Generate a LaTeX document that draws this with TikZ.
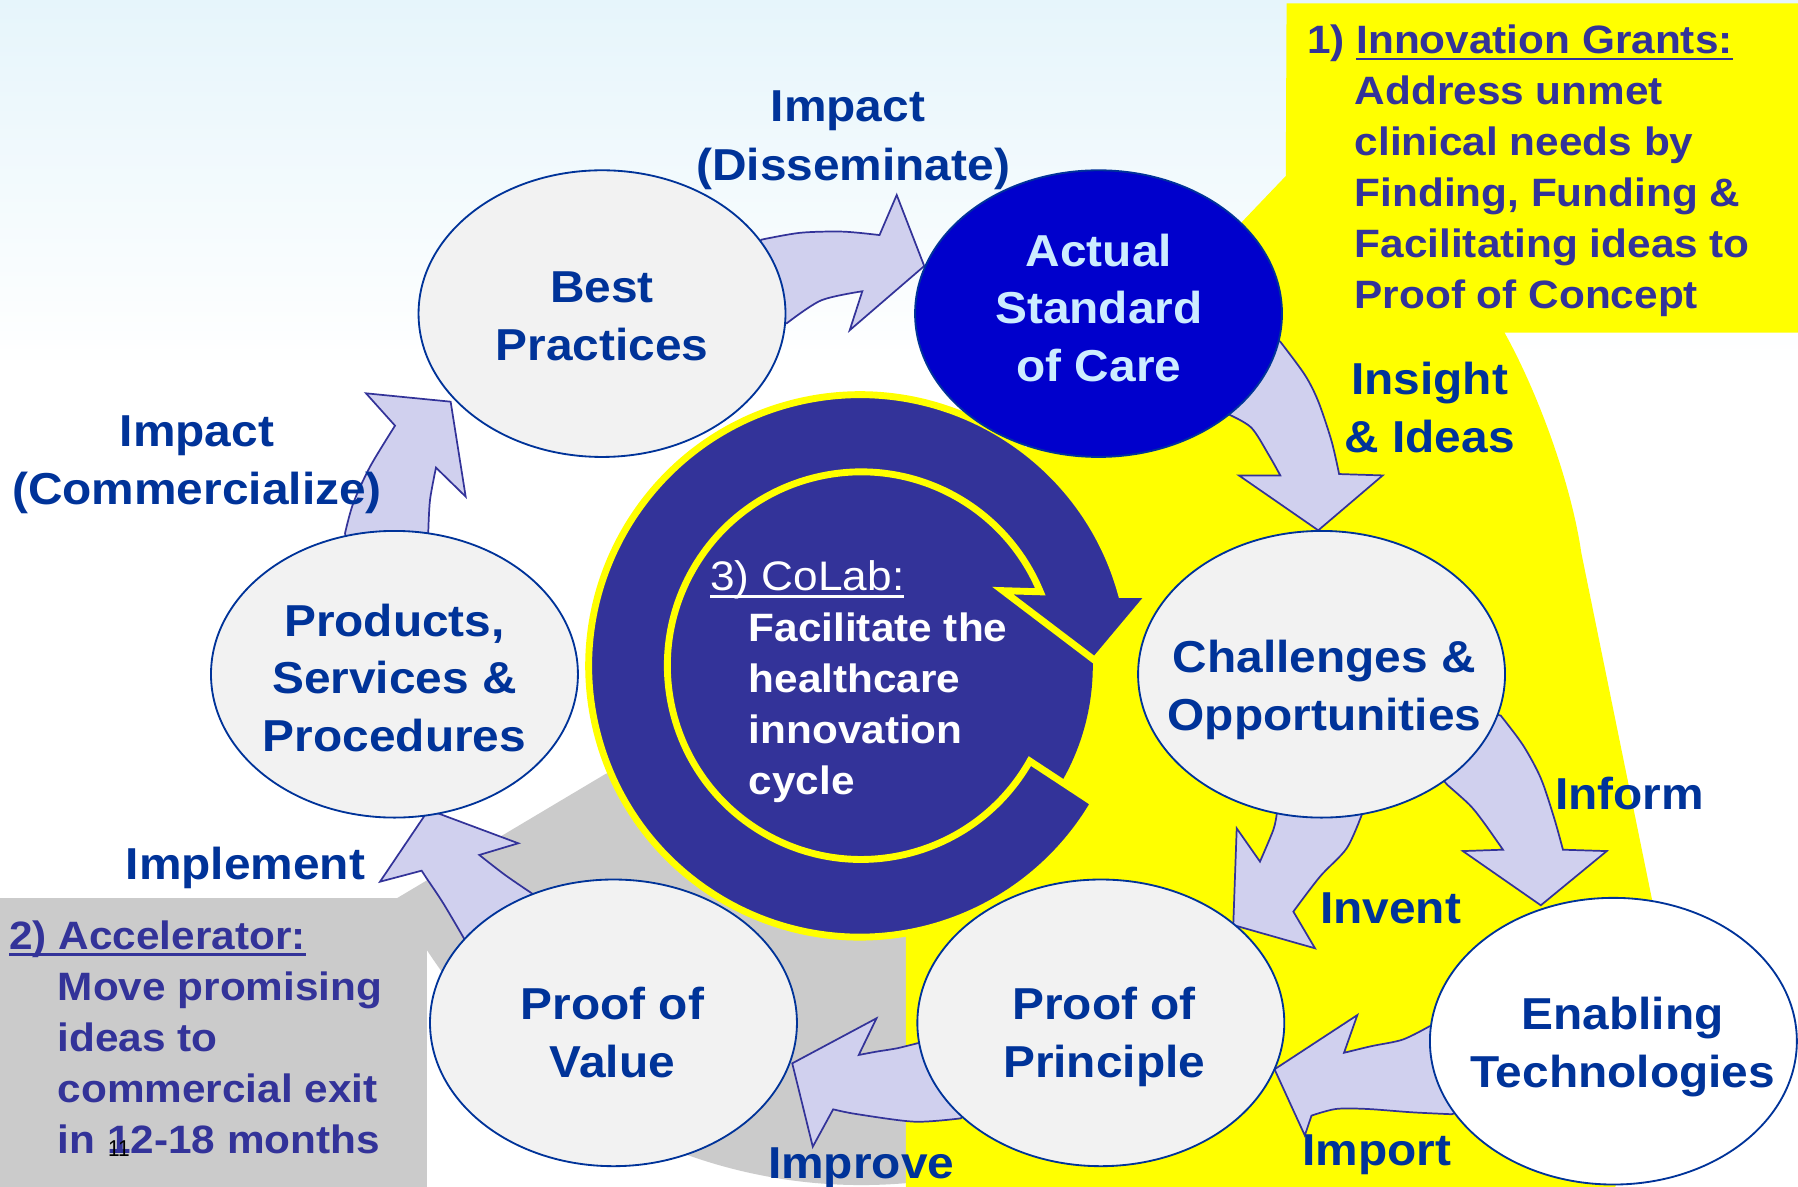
\documentclass[tikz,border=0pt]{standalone}
\usepackage{fontspec}
\setmainfont{Liberation Sans}[FakeStretch=1.07]
\usetikzlibrary{calc,shapes.geometric}
\definecolor{lblue}{RGB}{0,51,153}
\definecolor{pblue}{RGB}{51,51,153}
\definecolor{colab}{RGB}{51,51,153}
\definecolor{ascfill}{RGB}{0,0,204}
\definecolor{asctext}{RGB}{204,236,255}
\definecolor{ellfill}{RGB}{242,242,242}
\definecolor{arrfill}{RGB}{208,208,238}
\definecolor{grayreg}{RGB}{203,203,203}
\definecolor{yel}{RGB}{255,255,0}
\definecolor{bgtop}{RGB}{230,245,251}
\newcommand\cl[1]{\hbox to 0pt{\hss#1\hss}}
\newcommand\ulx[1]{\setbox0=\hbox{#1}\rlap{\rule[-6pt]{\wd0}{2.4pt}}\box0}
\begin{document}
\begin{tikzpicture}[x=1pt,y=-1pt,
  ell/.style={ellipse, draw=lblue, line width=1.6pt, fill=ellfill, minimum width=320pt, minimum height=250pt, inner sep=0pt},
  blockarrow/.style={fill=arrfill, draw=pblue, line width=1.5pt, line join=miter},
  etxt/.style={font=\fontsize{39}{50.5}\selectfont\bfseries, text=lblue, inner sep=0pt, anchor=base},
  lbl/.style={font=\fontsize{39}{50.5}\selectfont\bfseries, text=lblue, inner sep=0pt, anchor=base},
  boxtxt/.style={font=\fontsize{34.5}{44.4}\selectfont\bfseries, text=pblue, inner sep=0pt, anchor=base west}]
\useasboundingbox (0,0) rectangle (1568,1035);
% background
\fill[white] (0,0) rectangle (1568,1035);
\shade[top color=bgtop, bottom color=white] (0,0) rectangle (1568,320);
\coordinate (C) at (751,580.5);
% gray region (Accelerator)
\fill[grayreg] (0,783.4) rectangle (372.6,1040);
\fill[grayreg] (346,783.4) -- (528,675) -- (C) -- (790,700) -- (790,1031.8)
  arc[start angle=85.1, end angle=153.4, radius=453] -- cycle;
% yellow region (Innovation Grants)
\fill[yel] (1122,3) -- (1568,3) -- (1568,290) -- (1312,290)
  .. controls (1340,340) and (1370,420) .. (1379,482) -- (1441,786) -- (1460,880)
  -- (1407,1040) -- (790,1040) -- (790,700) -- (C) -- (864,423) -- (1121.3,153.5) -- cycle;
% block arrows
\filldraw[blockarrow] (650,230) -- (664,209) -- plot[smooth] coordinates {(664,209) (698,203) (735,202) (767,205)} -- (782,170) -- (806,232) -- (741,288) -- (752,254) -- plot[smooth] coordinates {(752,254) (716,262) (686,282)} -- (660,280) -- cycle;
\filldraw[blockarrow] (305,492) -- (300.9,465) -- plot[smooth] coordinates {(300.9,465) (308,439) (322.7,407) (344.5,371.2)} -- (319.2,343) -- (393,350.3) -- (406.1,433.1) -- (380.2,407.8) -- plot[smooth] coordinates {(380.2,407.8) (375,436) (373.5,463.7)} -- (370,492) -- cycle;
\filldraw[blockarrow] (420,830) -- (404.6,818.3) -- plot[smooth] coordinates {(404.6,818.3) (386.6,787.8) (372.1,766) (367.7,759.3)} -- (331.4,768.9) -- (373.7,706.2) -- (452,735.4) -- (418,745.6) -- plot[smooth] coordinates {(418,745.6) (440.4,763) (463.7,779)} -- (470,800) -- cycle;
\filldraw[blockarrow] (1100,290) -- (1116.5,298) -- plot[smooth] coordinates {(1116.5,298) (1137.9,326.9) (1149.6,350) (1161.2,384.6) (1167.8,413.4)} -- (1205.8,414.6) -- (1149.6,462.5) -- (1080.4,414.6) -- (1116.5,414.6) -- plot[smooth] coordinates {(1116.5,414.6) (1106.8,397.3) (1091.3,373) (1071.9,361.6)} -- (1060,345) -- cycle;
\filldraw[blockarrow] (1290,620) -- (1308.7,624) -- plot[smooth] coordinates {(1308.7,624) (1328.2,649.9) (1343.7,678.7) (1355.3,713.3) (1363,741)} -- (1401.2,742.2) -- (1343.7,789.5) -- (1275.7,742.2) -- (1310.7,741) -- plot[smooth] coordinates {(1310.7,741) (1293.2,716.2) (1281.5,701.8) (1262.2,684.5)} -- (1250,670) -- cycle;
\filldraw[blockarrow] (1115,690) -- (1113.3,710.7) -- plot[smooth] coordinates {(1113.3,710.7) (1110.4,723.8) (1098.8,751.4)} -- (1078.5,722.4) -- (1075.5,806.7) -- (1146.8,827) -- (1127.9,795) -- plot[smooth] coordinates {(1127.9,795) (1151.1,764.5) (1174.4,739.8) (1187.5,710.7)} -- (1185,690) -- cycle;
\filldraw[blockarrow] (1265,893) -- (1246.6,895) -- plot[smooth] coordinates {(1246.6,895) (1223.3,906.6) (1196.1,912.3) (1172.1,918.1)} -- (1183.7,885.2) -- (1111.5,932.5) -- (1137.9,990.2) -- (1143.7,972.9) -- plot[smooth] coordinates {(1143.7,972.9) (1165.1,967.1) (1192.2,967.1) (1231.1,970) (1266,971.7)} -- (1285,965) -- cycle;
\filldraw[blockarrow] (820,910) -- (800,909.8) -- plot[smooth] coordinates {(800,909.8) (782.2,914.2) (764.4,917.1) (748.9,920)} -- (764.4,888) -- (690.9,927.3) -- (708.8,1000) -- (726.6,967.4) -- plot[smooth] coordinates {(726.6,967.4) (746.6,971.5) (797.7,978.2) (837.8,975.3)} -- (850,965) -- cycle;
% CoLab circular arrow
\fill[colab] (C) circle[radius=202];
\filldraw[fill=colab, draw=yel, line width=6pt, line join=miter]
  ($(C)+(29.5:169)$) arc[start angle=29.5, end angle=337.6, radius=169]
  -- (874.6,515.1) -- (954.7,575.9) -- (1003,518.3) -- (978,518.3)
  arc[start angle=344.7, end angle=30.4, radius=236.5] -- cycle;
% ellipses
\node[ell] (bp) at (525,273.5) {};
\node[ell, fill=ascfill] (asc) at (958,273.5) {};
\node[ell] (psp) at (344,588) {};
\node[ell] (co) at (1152.5,588) {};
\node[ell] (pov) at (535,892) {};
\node[ell] (pop) at (960,892) {};
\node[ell, fill=white] (et) at (1407,908) {};
% ellipse texts
\node[etxt] (bpT) at (525,264) {\vtop{\cl{Best}\cl{Practices}}};
\node[etxt, text=asctext] (ascT) at (958.3,232) {\vtop{\cl{Actual}\cl{Standard}\cl{of Care}}};
\node[etxt] (pspT) at (344,554.7) {\vtop{\cl{Products,}\cl{Services \&}\cl{Procedures}}};
\node[etxt] (coT) at (1155,586.5) {\vtop{\cl{Challenges \&}\cl{Opportunities}}};
\node[etxt] (povT) at (534,888.9) {\vtop{\cl{Proof of}\cl{Value}}};
\node[etxt] (popT) at (962.9,888.9) {\vtop{\cl{Proof of}\cl{Principle}}};
\node[etxt] (etT) at (1415,897.9) {\vtop{\cl{Enabling}\cl{Technologies}}};
% arrow labels
\node[lbl] (l1a) at (739.4,106) {Impact};
\node[lbl] (l1b) at (744,157.3) {(Disseminate)};
\node[lbl] (l2) at (171.8,389.3) {\vtop{\cl{Impact}\cl{(Commercialize)}}};
\node[lbl] (l3) at (1246.7,344.2) {\vtop{\cl{Insight}\cl{\& Ideas}}};
\node[lbl] (l4) at (1421,705.9) {Inform};
\node[lbl] (l5) at (1212.6,805.6) {Invent};
\node[lbl] (l6) at (1200.6,1016.1) {Import};
\node[lbl] (l7) at (751,1027.6) {Improve};
\node[lbl] (l8) at (214,767.4) {Implement};
% program boxes
\node[boxtxt] (ig) at (1139.6,46.7) {\vtop{\hbox{1) \ulx{Innovation Grants:}}\hbox{\hspace{41.6pt}Address unmet}\hbox{\hspace{41.6pt}clinical needs by}\hbox{\hspace{41.6pt}Finding, Funding \&}\hbox{\hspace{41.6pt}Facilitating ideas to}\hbox{\hspace{41.6pt}Proof of Concept}}};
\node[boxtxt] (acc) at (7.9,827.9) {\vtop{\hbox{\ulx{2) Accelerator:}}\hbox{\hspace{42.3pt}Move promising}\hbox{\hspace{42.3pt}ideas to}\hbox{\hspace{42.3pt}commercial exit}\hbox{\hspace{42.3pt}in 12-18 months}}};
\node[boxtxt, text=white] (clab) at (619.3,515.2) {\vtop{\hbox{\mdseries\fontsize{36}{44.4}\selectfont\ulx{3) CoLab:}}\hbox{\hspace{33.4pt}Facilitate the}\hbox{\hspace{33.4pt}healthcare}\hbox{\hspace{33.4pt}innovation}\hbox{\hspace{33.4pt}cycle}}};
\node[font=\fontsize{20}{22}\selectfont, text=black, anchor=base west, inner sep=0pt, xscale=0.85] (pg) at (94.1,1008.2) {11};
\end{tikzpicture}
\end{document}
